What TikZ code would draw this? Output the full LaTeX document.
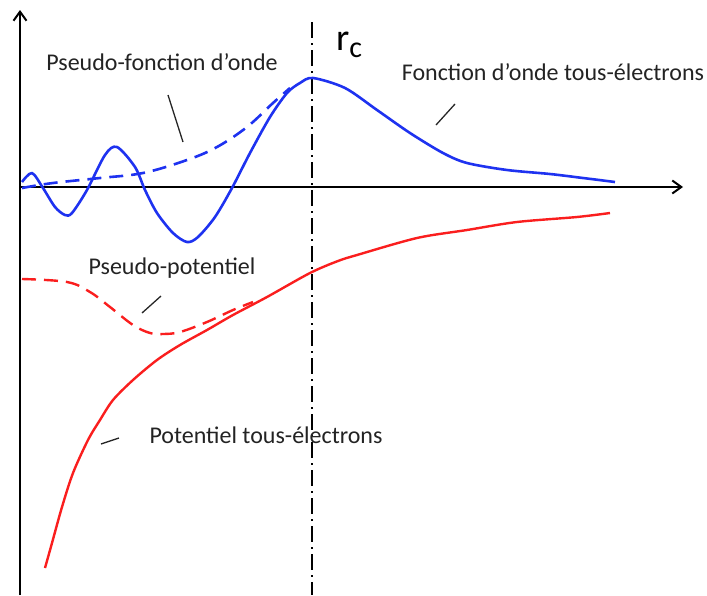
\documentclass[tikz,border=0pt]{standalone}
\usepackage{fontspec}
\setmainfont{Carlito}
\usetikzlibrary{arrows.meta}
\definecolor{cblue}{RGB}{30,50,240}
\definecolor{cred}{RGB}{250,30,30}
\definecolor{ctext}{RGB}{35,35,35}
\tikzset{
  axis/.style={line width=2pt,draw=black,-{Straight Barb[length=9pt,width=13pt,line width=2pt]}},
  wave/.style={line width=2.6pt,draw=cblue,line join=round},
  pot/.style={line width=2.4pt,draw=cred,line join=round},
  pseudo/.style={dash pattern=on 14pt off 8pt},
  leader/.style={line width=1.3pt,draw=black!85},
  lbl/.style={text=ctext,font=\fontsize{24}{28}\selectfont,inner sep=0pt},
  rcline/.style={line width=2pt,draw=black,dash pattern=on 16pt off 5pt on 2pt off 5pt}
}
\begin{document}
\begin{tikzpicture}[x=1pt,y=-1pt]
\useasboundingbox (0,0) rectangle (707,595);
% axes
\coordinate (o) at (20,187);
\coordinate (ytop) at (20,10);
\coordinate (ybot) at (20,595);
\coordinate (xend) at (683,187);
\draw[axis] (ybot) -- (ytop);
\draw[axis] (o) -- (xend);
% r_c line
\coordinate (rctop) at (312,22);
\coordinate (rcbot) at (312,595);
\draw[rcline] (rctop) -- (rcbot);
\node[text=black,inner sep=0pt,anchor=base west] (rc) at (336,50) {\fontsize{38}{40}\selectfont r\raisebox{-7pt}{\fontsize{30}{30}\selectfont c}};
% all-electron wave function
\draw[wave] plot[smooth,tension=0.5] coordinates {(22,182) (32,173) (43,188) (55,207) (65,215) (72,213) (87,190) (105,155) (117,147) (135,167) (145,190) (157,213) (173,233) (187,242) (198,237) (215,217) (232,188) (250,153) (270,117) (287,93) (300,83) (313,78) (345,88) (377,110) (410,133) (443,153) (467,163) (507,170) (550,174) (583,178) (615,182)};
% pseudo wave function
\draw[wave,pseudo] plot[smooth,tension=0.6] coordinates {(22,188) (53,183) (100,178) (143,173) (187,160) (217,147) (247,127) (273,103) (290,88)};
% all-electron potential
\draw[pot] plot[smooth,tension=0.5] coordinates {(45,568) (52,543) (62,507) (73,473) (88,440) (100,420) (113,400) (133,380) (157,360) (180,345) (207,330) (233,315) (267,297) (310,273) (338,261) (357,255) (417,238) (467,230) (517,222) (577,217) (610,213)};
% pseudo potential
\draw[pot,pseudo] plot[smooth,tension=0.6] coordinates {(22,279) (67,282) (90,292) (110,307) (133,325) (150,333) (163,334) (180,332) (207,322) (233,310) (253,302)};
% labels
\node[lbl] (l1) at (162,62) {Pseudo-fonction d’onde};
\node[lbl] (l2) at (553,72) {Fonction d’onde tous-électrons};
\node[lbl] (l3) at (172,268) {Pseudo-potentiel};
\node[lbl] (l4) at (266,435) {Potentiel tous-électrons};
% leaders
\coordinate (a1) at (168,95); \coordinate (b1) at (183,142);
\coordinate (a2) at (455,104); \coordinate (b2) at (436,125);
\coordinate (a3) at (161,296); \coordinate (b3) at (142,313);
\coordinate (a4) at (119,438); \coordinate (b4) at (101,444);
\draw[leader] (a1) -- (b1);
\draw[leader] (a2) -- (b2);
\draw[leader] (a3) -- (b3);
\draw[leader] (a4) -- (b4);
\end{tikzpicture}
\end{document}
